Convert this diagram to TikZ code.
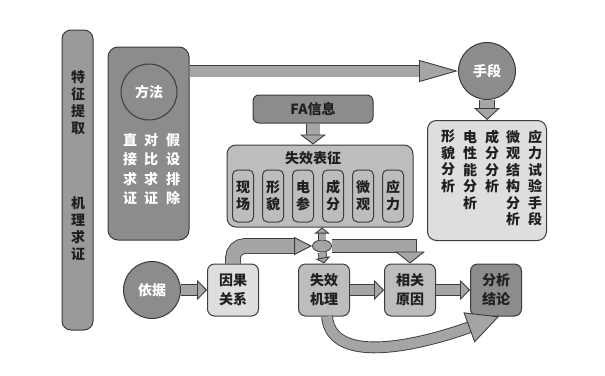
\documentclass[tikz,border=0pt]{standalone}
\usepackage{fontspec}
\setmainfont{Noto Sans CJK SC}
\usepackage{xcolor}
\usepackage{tikz}
\usetikzlibrary{arrows.meta,positioning,calc,shapes.geometric}
\definecolor{edgegray}{HTML}{3C3C3C}
\definecolor{darkfill}{HTML}{8C8C8C}
\definecolor{barfill}{HTML}{9A9A9A}
\definecolor{midfill}{HTML}{BDBDBD}
\definecolor{lightfill}{HTML}{DEDEDE}
\definecolor{arrowfill}{HTML}{A5A5A5}
\definecolor{textdark}{HTML}{202020}
\tikzset{
	box/.style={draw=edgegray, line width=1pt, rounded corners=7pt, align=center,
		inner sep=0pt, text=textdark, font=\bfseries\fontsize{14}{19}\selectfont},
	disc/.style={draw=edgegray, line width=1pt, circle, fill=darkfill, inner sep=0pt,
		minimum size=57pt, text=white, font=\bfseries\fontsize{14}{19}\selectfont},
	vtext/.style={align=center, inner sep=0pt, font=\bfseries\fontsize{14}{17}\selectfont},
	fatarrow/.style n args={3}{draw=edgegray, line width=0.9pt, double=arrowfill,
		double distance=#1, -{Triangle[length=#2, width=#3, fill=arrowfill]}}
}

\begin{document}
\begin{tikzpicture}[
	x=1pt, y=-1pt,
	cell/.style={box, fill=midfill, minimum width=21pt, minimum height=52pt,
		rounded corners=5pt, font=\bfseries\fontsize{14}{17}\selectfont},
	stage/.style={box, minimum width=51pt, minimum height=52pt},
	]
	\useasboundingbox (0,0) rectangle (605,375);
	
	%% ── Left bar ─────────────────────────────────────────────────────
	\node[box, fill=barfill, minimum width=31pt, minimum height=300pt,
	rounded corners=9pt] (bar) at (77.5,180) {};
	\node[vtext, text=textdark] (featT) at (78,103) {特\\征\\提\\取};
	\node[vtext, text=textdark] (mechT) at (78,229) {机\\理\\求\\证};
	
	%% ── Method box ───────────────────────────────────────────────────
	\node[box, fill=darkfill, minimum width=81pt, minimum height=193pt,
	rounded corners=10pt] (method) at (148.5,143.5) {};
	\node[disc, minimum size=56pt] (fangfa) at (149,92) {方法};
	\node[vtext, text=white, anchor=north, font=\bfseries\fontsize{14}{19.5}\selectfont]
	(direct) at (130,133) {直\\接\\求\\证};
	\node[vtext, text=white, anchor=north, font=\bfseries\fontsize{14}{19.5}\selectfont]
	(compare) at (151,133) {对\\比\\求\\证};
	\node[vtext, text=white, anchor=north, font=\bfseries\fontsize{14}{19.5}\selectfont]
	(exclude) at (173,133) {假\\设\\排\\除};
	
	%% ── Means (top-right) ────────────────────────────────────────────
	\node[disc] (shouduan) at (487,71) {手段};
	\node[box, fill=lightfill, minimum width=119pt, minimum height=120pt,
	rounded corners=9pt, below=20pt of shouduan] (tools) {};
	\node[vtext, anchor=north, text=textdark, font=\bfseries\fontsize{14}{16.5}\selectfont]
	(morph) at (448,130) {形\\貌\\分\\析};
	\node[vtext, anchor=north, text=textdark, font=\bfseries\fontsize{14}{16.5}\selectfont]
	(elec) at (470,130) {电\\性\\能\\分\\析};
	\node[vtext, anchor=north, text=textdark, font=\bfseries\fontsize{14}{16.5}\selectfont]
	(comp) at (492,130) {成\\分\\分\\析};
	\node[vtext, anchor=north, text=textdark, font=\bfseries\fontsize{14}{16.5}\selectfont]
	(micro) at (513,130) {微\\观\\结\\构\\分\\析};
	\node[vtext, anchor=north, text=textdark, font=\bfseries\fontsize{14}{16.5}\selectfont]
	(stress) at (535,130) {应\\力\\试\\验\\手\\段};
	
	\draw[fatarrow={11pt}{39pt}{22pt}] (method.east |- shouduan.west) -- (shouduan.west);
	\draw[fatarrow={14pt}{12pt}{26pt}] (shouduan.south) -- (tools.north);
	
	%% ── FA info and failure signs ────────────────────────────────────
	\node[box, fill=darkfill, minimum width=120pt, minimum height=28pt,
	rounded corners=6pt] (fa) at (313,109) {FA信息};
	\node[box, fill=midfill, minimum width=186pt, minimum height=82pt,
	rounded corners=9pt] (charz) at (320,186) {};
	\node[vtext, text=textdark] (charT) at (313,158.5) {失效表征};
	\foreach \x/\t [count=\i] in {243/现\\场, 273/形\\貌, 303/电\\参,
		333/成\\分, 363/微\\观, 393/应\\力}
	\node[cell] (c\i) at (\x,196) {\t};
	
	\draw[fatarrow={13pt}{10pt}{26pt}] (fa.south) -- (fa.south |- charz.north);
	
	%% ── Junction ─────────────────────────────────────────────────────
	\node[ellipse, draw=edgegray, fill=arrowfill, line width=0.8pt, inner sep=0pt,
	minimum width=19pt, minimum height=12pt] (jn) at (322,246) {};
	
	%% ── Bottom row ───────────────────────────────────────────────────
	\node[disc] (yiju) at (152,290) {依据};
	\node[stage, fill=lightfill, right=26pt of yiju] (cause) {因果\\关系};
	\node[stage, fill=midfill, right=39pt of cause] (mech) {失效\\机理};
	\node[stage, fill=midfill, right=34pt of mech] (rel) {相关\\原因};
	\node[stage, fill=darkfill, right=34pt of rel] (concl) {分析\\结论};
	
	\draw[fatarrow={10pt}{10pt}{20pt}] (yiju.east) -- (cause.west);
	\draw[fatarrow={10pt}{10pt}{20pt}] (mech.east) -- (rel.west);
	\draw[fatarrow={10pt}{10pt}{20pt}] (rel.east) -- (concl.west);
	
	\draw[fatarrow={14pt}{18pt}{18pt}, rounded corners=12pt] (cause.north) |- (jn.west);
	\draw[fatarrow={12pt}{12pt}{30pt}] (jn.east) -| (rel.north);
	\draw[fatarrow={7pt}{6pt}{15pt}] (jn.north) -- (jn.north |- charz.south);
	\draw[fatarrow={7pt}{6pt}{15pt}] (jn.south) -- (mech.north);
	
	\draw[fatarrow={10pt}{32pt}{32pt}] ([xshift=3pt]mech.south)
	to[out=-85, in=200, looseness=0.85] ([xshift=3pt]concl.south);
	
\end{tikzpicture}
\end{document}
